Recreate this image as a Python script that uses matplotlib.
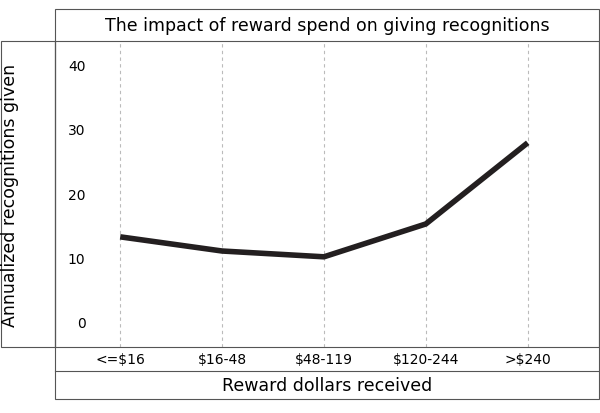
import matplotlib.pyplot as plt
from matplotlib.patches import Rectangle

categories = ['<=$16', '$16-48', '$48-119', '$120-244', '>$240']
recognitions = [13.2, 11.0, 10.1, 15.2, 27.8]
y_ticks = [0, 10, 20, 30, 40]

W, H = 600, 414
fig = plt.figure(figsize=(6, 4.14), dpi=100)


def box(x0, y0, x1, y1):
    # pixel coords from top-left
    return [x0 / W, 1 - y1 / H, (x1 - x0) / W, (y1 - y0) / H]


ax = fig.add_axes(box(55, 42, 599, 348))
x = list(range(len(categories)))
ax.plot(x, recognitions, color='#231f20', lw=4, solid_capstyle='butt')
ax.set_xlim(-0.64, 4.7)
ax.set_ylim(-3.9, 43.6)
ax.set_yticks(y_ticks)
ax.set_xticks(x)
ax.set_xticklabels([])
ax.tick_params(axis='y', direction='in', pad=-22, length=0, labelsize=10)
ax.tick_params(axis='x', length=0)
ax.grid(axis='x', color='#bbbbbb', ls=(0, (3, 3)), lw=0.8)
for s in ax.spines.values():
    s.set_color('#555555')
    s.set_linewidth(0.8)

# frames
fig.patches.append(Rectangle((55 / W, 1 - 400 / H), 544 / W, 390 / H, transform=fig.transFigure,
                             fill=False, ec='#555555', lw=0.8))
fig.patches.append(Rectangle((1 / W, 1 - 348 / H), 54 / W, 306 / H, transform=fig.transFigure,
                             fill=False, ec='#555555', lw=0.8))
fig.lines.append(plt.Line2D([55 / W, 599 / W], [1 - 372 / H] * 2, transform=fig.transFigure,
                            color='#555555', lw=0.8))

fig.text(327 / W, 1 - 26 / H, 'The impact of reward spend on giving recognitions',
         ha='center', va='center', fontsize=12.5)
fig.text(10 / W, 1 - 195 / H, 'Annualized recognitions given', rotation=90,
         ha='center', va='center', fontsize=12.5)
fig.text(327 / W, 1 - 386 / H, 'Reward dollars received', ha='center', va='center', fontsize=12.5)
for i, c in enumerate(categories):
    px = ax.transData.transform((i, 0))[0]
    fig.text(px / fig.bbox.width, 1 - 360 / H, c, ha='center', va='center', fontsize=10)

fig.savefig('out.png', dpi=100)
